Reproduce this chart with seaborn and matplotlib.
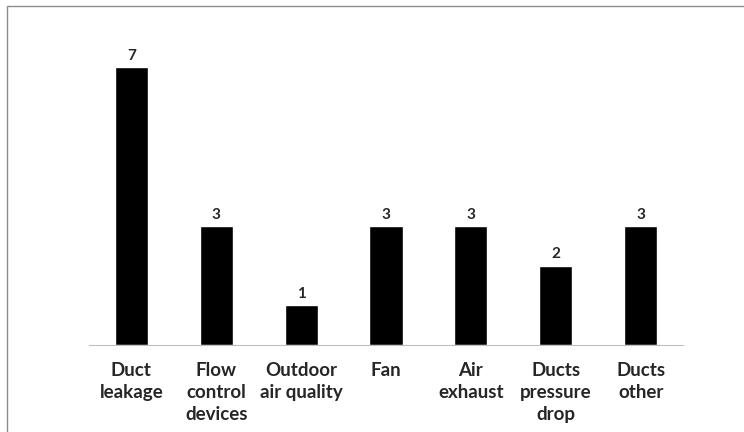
import pandas as pd
import seaborn as sns
import matplotlib.pyplot as plt
from matplotlib.patches import Rectangle
import numpy as np

# Chart data
categories = ["Duct\nleakage", "Flow\ncontrol\ndevices", "Outdoor\nair quality", "Fan",
              "Air\nexhaust", "Ducts\npressure\ndrop", "Ducts\nother"]
counts = [7, 3, 1, 3, 3, 2, 3]

df = pd.DataFrame({"category": categories, "count": counts})

sns.set_style("white")
plt.rcParams['font.family'] = ['Lato', 'DejaVu Sans']

fig = plt.figure(figsize=(7.44, 4.32), dpi=100)
ax = fig.add_axes([89 / 744, 1 - 345 / 432, (683 - 89) / 744, (345 - 27) / 432])

sns.barplot(data=df, x="category", y="count", color="black", width=0.39,
            saturation=1, ax=ax)

ax.set_ylim(0, 8)
ax.set_xlim(-0.5, len(categories) - 0.5)
ax.set_xlabel("")
ax.set_ylabel("")
ax.set_yticks([])

# value labels above bars
for i, v in enumerate(counts):
    ax.annotate(str(v), (i, v), xytext=(0, 3), textcoords="offset points",
                ha="center", va="bottom", fontsize=11, fontweight="bold")

# category labels, boundary ticks
ax.set_xticks(range(len(categories)))
ax.set_xticklabels(categories, fontsize=13.5, fontweight="bold", linespacing=1.38)
ax.tick_params(axis="x", which="major", length=0, pad=12)
ax.set_xticks(np.arange(-0.5, len(categories), 1), minor=True)
ax.tick_params(axis="x", which="minor", length=4, color="#bfbfbf", width=0.8)

for s in ["top", "left", "right"]:
    ax.spines[s].set_visible(False)
ax.spines["bottom"].set_color("#bfbfbf")
ax.spines["bottom"].set_linewidth(0.8)

# chart border
fig.patches.append(Rectangle((7 / 744, -0.05), 1.0, 1 - 6 / 432 + 0.05,
                             transform=fig.transFigure, fill=False,
                             edgecolor="#8c8c8c", linewidth=1))

fig.savefig("out.png", dpi=100)
